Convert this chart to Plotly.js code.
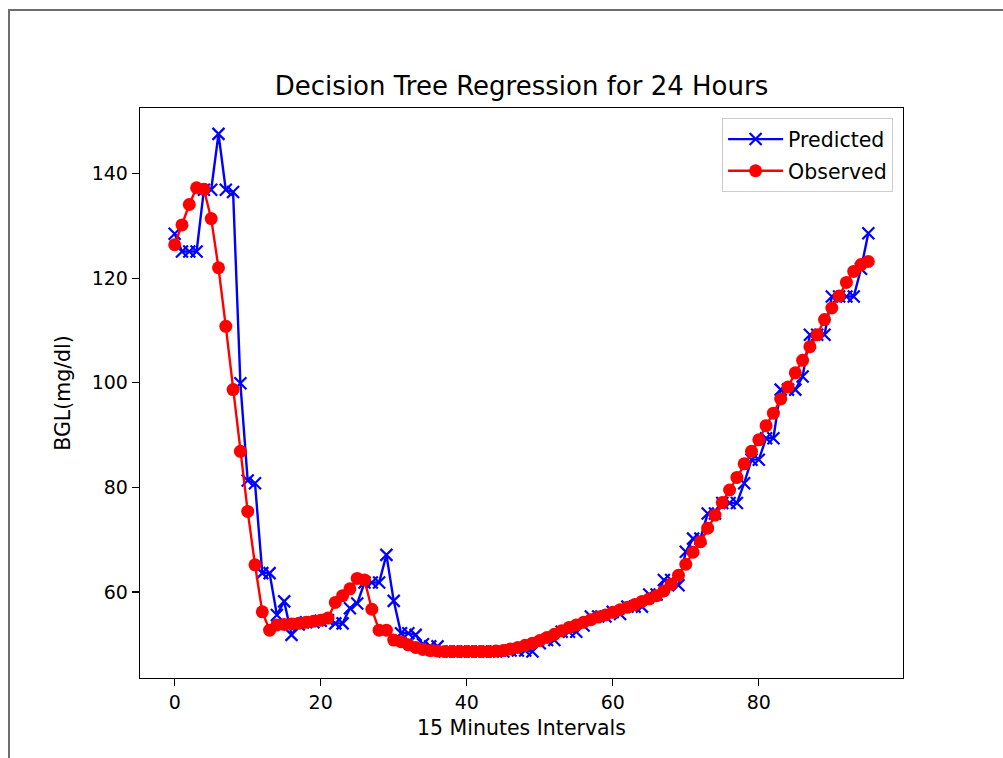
<!DOCTYPE html>
<html>
<head>
<meta charset="utf-8">
<script src="https://cdn.plot.ly/plotly-3.0.1.min.js"></script>
<style>
  html, body { margin: 0; padding: 0; background: #fff; }
  #wrap { position: relative; width: 1003px; height: 758px; overflow: hidden; }
  #frame { position: absolute; left: 8px; top: 9px; width: 1010px; height: 760px;
           border-top: 2px solid #6e6e6e; border-left: 2px solid #6e6e6e; pointer-events: none; z-index: 5; }
  #chart { position: absolute; left: 0; top: 0; width: 1003px; height: 758px; }
</style>
</head>
<body>
<div id="wrap">
  <div id="chart"></div>
  <div id="frame"></div>
</div>
<script>
const intervals = [0,1,2,3,4,5,6,7,8,9,10,11,12,13,14,15,16,17,18,19,20,21,22,23,24,25,26,27,28,29,30,31,32,33,34,35,36,37,38,39,40,41,42,43,44,45,46,47,48,49,50,51,52,53,54,55,56,57,58,59,60,61,62,63,64,65,66,67,68,69,70,71,72,73,74,75,76,77,78,79,80,81,82,83,84,85,86,87,88,89,90,91,92,93,94,95];

const predicted = [128.5,125.1,125.1,125.1,136.9,136.9,147.6,136.9,136.5,99.9,
  81.3,80.8,63.6,63.6,55.6,58.2,51.8,53.8,54.2,54.2,
  54.5,54.6,54.0,54.0,56.9,57.8,61.8,61.8,61.8,67.1,
  58.3,52.1,52.1,51.8,50.0,49.6,49.6,48.6,48.6,48.6,
  48.6,48.6,48.6,48.6,48.6,48.6,48.8,48.8,48.8,48.6,
  50.2,50.8,50.8,52.4,52.4,52.4,53.6,55.3,55.3,55.3,
  56.2,55.8,57.2,57.2,57.2,59.5,59.5,62.3,62.3,61.3,
  67.7,70.2,70.2,75.0,75.0,77.0,77.0,77.0,80.8,85.3,
  85.3,89.4,89.4,98.7,98.7,98.7,101.2,109.2,109.2,109.2,
  116.5,116.5,116.5,116.5,121.8,128.6];

const observed = [126.4,130.2,134.1,137.3,137.0,131.4,122.0,110.8,98.7,86.9,
  75.4,65.2,56.2,52.7,53.7,53.8,53.9,54.0,54.2,54.4,
  54.6,55.0,58.0,59.3,60.6,62.6,62.3,56.7,52.7,52.7,
  50.8,50.5,49.9,49.4,49.0,48.8,48.7,48.6,48.6,48.6,
  48.6,48.6,48.6,48.6,48.7,48.8,49.1,49.4,49.8,50.2,
  50.7,51.3,51.9,52.6,53.2,53.7,54.2,54.7,55.2,55.6,
  56.1,56.6,57.1,57.6,58.2,58.7,59.3,60.2,61.5,63.2,
  65.3,67.6,69.6,72.2,74.7,77.1,79.5,81.9,84.5,86.9,
  89.1,91.8,94.2,96.9,99.2,101.9,104.3,106.9,109.2,112.1,
  114.3,116.6,119.2,121.3,122.6,123.2];

const xTicks = [0, 20, 40, 60, 80];
const yTicks = [60, 80, 100, 120, 140];

const font = "DejaVu Sans, Arial, sans-serif";

const traces = [
  {
    x: intervals, y: predicted, name: 'Predicted', type: 'scatter', mode: 'lines+markers',
    legendgroup: 'p',
    line: { color: '#0000ff', width: 2.4 },
    marker: { symbol: 'x-thin', size: 12, color: '#0000ff', line: { color: '#0000ff', width: 2.2 } }
  },
  {
    x: intervals, y: observed, name: 'Observed', type: 'scatter', mode: 'lines+markers',
    legendgroup: 'o',
    line: { color: '#ff0000', width: 2.4 },
    marker: { symbol: 'circle', size: 13, color: '#ff0000' }
  }
];

const axisCommon = {
  showline: true, mirror: true, linecolor: '#000', linewidth: 1.3,
  ticks: 'outside', ticklen: 7, tickwidth: 1.3, tickcolor: '#000',
  showgrid: false, zeroline: false,
  tickfont: { family: font, size: 19, color: '#000' }
};

const layout = {
  width: 1003, height: 758,
  margin: { l: 140, r: 100, t: 108, b: 80, pad: 0 },
  paper_bgcolor: '#fff', plot_bgcolor: '#fff',
  font: { family: font, color: '#000' },
  showlegend: true,
  title: {
    text: 'Decision Tree Regression for 24 Hours',
    font: { family: font, size: 26, color: '#000' },
    x: 0.5, xref: 'paper', xanchor: 'center',
    y: 1 - 86 / 758, yref: 'container', yanchor: 'middle'
  },
  xaxis: Object.assign({}, axisCommon, {
    range: [-4.75, 99.75], tickvals: xTicks, ticktext: xTicks.map(String),
    title: { text: '15 Minutes Intervals', font: { family: font, size: 20.5, color: '#000' }, standoff: 8 }
  }),
  yaxis: Object.assign({}, axisCommon, {
    range: [43.55, 152.55], tickvals: yTicks, ticktext: yTicks.map(String),
    title: { text: 'BGL(mg/dl)', font: { family: font, size: 20.5, color: '#000' }, standoff: 15 }
  }),
  legend: {
    x: 0.987, xanchor: 'right', y: 0.982, yanchor: 'top',
    traceorder: 'grouped', tracegroupgap: 2,
    bgcolor: 'rgba(255,255,255,0.8)', bordercolor: '#cccccc', borderwidth: 1,
    font: { family: font, size: 20.5, color: '#000' },
    itemwidth: 55
  }
};

Plotly.newPlot('chart', traces, layout, { staticPlot: true, displayModeBar: false });
</script>
</body>
</html>
